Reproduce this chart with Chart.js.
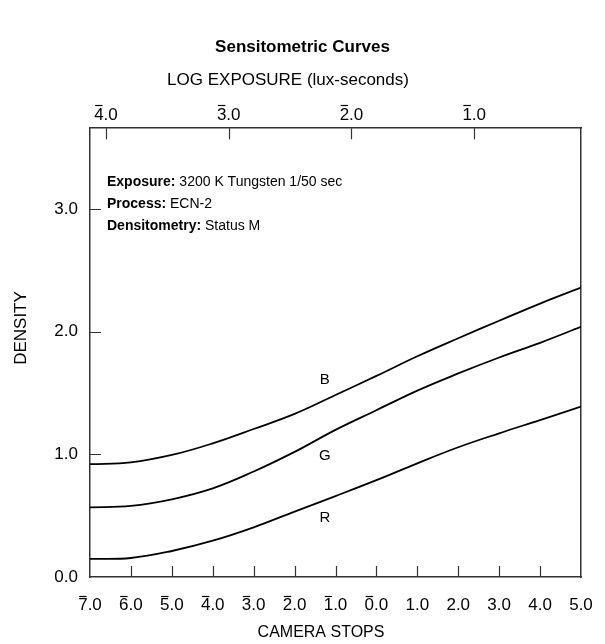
<!DOCTYPE html>
<html>
<head>
<meta charset="utf-8">
<script src="https://cdn.jsdelivr.net/npm/chart.js@4.4.0/dist/chart.umd.min.js"></script>
<style>
  html, body { margin: 0; padding: 0; background: #fff; overflow: hidden; }
  canvas { display: block; }
</style>
</head>
<body>
<canvas id="myChart" width="605" height="644"></canvas>
<script>
// data (density per camera stop)
const cameraStops = [-7, -6, -5, -4, -3, -2, -1, 0, 1, 2, 3, 4, 5];
// \u0304 = bar over the characteristic (negative log notation)
const stopLabels = ['7\u0304.0', '6\u0304.0', '5\u0304.0', '4\u0304.0', '3\u0304.0', '2\u0304.0', '1\u0304.0', '0\u0304.0', '1.0', '2.0', '3.0', '4.0', '5.0'];
const blueDensity = [0.92, 0.935, 0.995, 1.09, 1.207, 1.33, 1.484, 1.64, 1.80, 1.947, 2.09, 2.23, 2.36];
const greenDensity = [0.568, 0.58, 0.634, 0.723, 0.86, 1.02, 1.20, 1.36, 1.52, 1.66, 1.79, 1.91, 2.04];
const redDensity = [0.147, 0.155, 0.212, 0.296, 0.405, 0.533, 0.66, 0.79, 0.927, 1.058, 1.172, 1.28, 1.39];
const densityTicks = [0, 1, 2, 3];
const densityLabels = ['0.0', '1.0', '2.0', '3.0'];
const logExposureTicks = [-4, -3, -2, -1];
const logExposureLabels = ['4\u0304.0', '3\u0304.0', '2\u0304.0', '1\u0304.0'];
const curveNames = ['B', 'G', 'R'];

const FONT = 'Liberation Sans, Arial, sans-serif';
const TICK_SIZE = 17;
const BOTTOM_PAD = 18, TOP_PAD = 3;
const frameColor = '#333';
const BAR = '\u0304';

function toPoints(vals) {
  return cameraStops.map((s, i) => ({x: s, y: vals[i]}));
}
function plain(lbl) {
  return lbl.replace(BAR, '');
}

const lineStyle = {
  borderColor: '#000',
  borderWidth: 1.8,
  pointRadius: 0,
  fill: false,
  tension: 0.4
};

// bar over the first digit of a tick label, cy = label middle
function drawBars(ctx, scale, values, labels, cy) {
  ctx.font = TICK_SIZE + 'px ' + FONT;
  const yb = Math.round(cy - TICK_SIZE * 0.56) + 0.5;
  values.forEach((v, i) => {
    const lbl = labels[i];
    if (lbl.indexOf(BAR) < 0) return;
    const txt = plain(lbl);
    const w = ctx.measureText(txt).width;
    const dw = ctx.measureText(txt.charAt(0)).width;
    const x0 = scale.getPixelForValue(v) - w / 2 + 1;
    ctx.beginPath();
    ctx.moveTo(x0, yb);
    ctx.lineTo(x0 + dw - 2, yb);
    ctx.stroke();
  });
}

// ticks pointing into the plot + text notes
const extras = {
  id: 'extras',
  afterDraw(chart) {
    const ctx = chart.ctx;
    const a = chart.chartArea;
    const sx = chart.scales.x, sx2 = chart.scales.x2, sy = chart.scales.y;
    const len = 11;
    ctx.save();
    ctx.strokeStyle = frameColor;
    ctx.lineWidth = 1.2;
    ctx.beginPath();
    cameraStops.slice(1, -1).forEach(v => {
      const px = Math.round(sx.getPixelForValue(v)) + 0.5;
      ctx.moveTo(px, a.bottom); ctx.lineTo(px, a.bottom - len);
    });
    logExposureTicks.forEach(v => {
      const px = Math.round(sx2.getPixelForValue(v)) + 0.5;
      ctx.moveTo(px, a.top); ctx.lineTo(px, a.top + len);
    });
    densityTicks.slice(1).forEach(v => {
      const py = Math.round(sy.getPixelForValue(v)) + 0.5;
      ctx.moveTo(a.left, py); ctx.lineTo(a.left + len, py);
    });
    ctx.stroke();

    const lh = TICK_SIZE * 1.2;
    ctx.strokeStyle = '#000';
    ctx.lineWidth = 1.2;
    drawBars(ctx, sx, cameraStops, stopLabels, a.bottom + BOTTOM_PAD + lh / 2);
    drawBars(ctx, sx2, logExposureTicks, logExposureLabels, a.top - TOP_PAD - lh / 2);

    ctx.fillStyle = '#000';
    ctx.textBaseline = 'middle';
    ctx.textAlign = 'left';
    const notes = [['Exposure:', ' 3200 K Tungsten 1/50 sec'], ['Process:', ' ECN-2'], ['Densitometry:', ' Status M']];
    notes.forEach((n, i) => {
      const x = a.left + 17, y = a.top + 54 + i * 22;
      ctx.font = 'bold 14px ' + FONT;
      ctx.fillText(n[0], x, y);
      const w = ctx.measureText(n[0]).width;
      ctx.font = '14px ' + FONT;
      ctx.fillText(n[1], x + w, y);
    });

    ctx.textAlign = 'center';
    ctx.font = '15px ' + FONT;
    const labelAt = [[-1.26, 1.61], [-1.26, 0.99], [-1.26, 0.48]];
    curveNames.forEach((name, i) => {
      ctx.fillText(name, sx.getPixelForValue(labelAt[i][0]), sy.getPixelForValue(labelAt[i][1]));
    });

    // axis titles
    ctx.font = '17px ' + FONT;
    ctx.fillText('LOG EXPOSURE (lux-seconds)', 288, 80);
    ctx.font = '16px ' + FONT;
    ctx.fillText('CAMERA STOPS', 321, 633);
    ctx.font = '17px ' + FONT;
    ctx.translate(21, 328);
    ctx.rotate(-Math.PI / 2);
    ctx.fillText('DENSITY', 0, 0);
    ctx.restore();
  }
};

const config = {
  type: 'line',
  data: {
    datasets: [
      Object.assign({label: 'B', data: toPoints(blueDensity)}, lineStyle),
      Object.assign({label: 'G', data: toPoints(greenDensity)}, lineStyle),
      Object.assign({label: 'R', data: toPoints(redDensity)}, lineStyle)
    ]
  },
  options: {
    responsive: false,
    animation: false,
    layout: {padding: 0},
    plugins: {
      legend: {display: false},
      tooltip: {enabled: false},
      title: {
        display: true,
        text: 'Sensitometric Curves',
        color: '#000',
        font: {family: FONT, size: 17, weight: 'bold'},
        padding: {top: 37, bottom: 0}
      }
    },
    scales: {
      x: {
        type: 'linear', position: 'bottom', min: -7, max: 5,
        afterBuildTicks: s => { s.ticks = cameraStops.map(v => ({value: v})); },
        afterFit: s => { s.height = 67; s.paddingLeft = 0; s.paddingRight = 0; },
        grid: {display: false, drawTicks: false},
        border: {display: true, color: frameColor, width: 1.5},
        ticks: {
          autoSkip: false, maxRotation: 0, padding: BOTTOM_PAD, color: '#000',
          font: {family: FONT, size: TICK_SIZE},
          callback: v => plain(stopLabels[cameraStops.indexOf(v)])
        }
      },
      x2: {
        type: 'linear', position: 'top', min: -4.13, max: -0.13,
        afterBuildTicks: s => { s.ticks = logExposureTicks.map(v => ({value: v})); },
        afterFit: s => { s.height = 70.8; s.paddingLeft = 0; s.paddingRight = 0; },
        grid: {display: false, drawTicks: false},
        border: {display: true, color: frameColor, width: 1.5},
        ticks: {
          autoSkip: false, maxRotation: 0, padding: TOP_PAD, color: '#000',
          font: {family: FONT, size: TICK_SIZE},
          callback: v => plain(logExposureLabels[logExposureTicks.indexOf(v)])
        }
      },
      y: {
        type: 'linear', position: 'left', min: 0, max: 3.66,
        afterBuildTicks: s => { s.ticks = densityTicks.map(v => ({value: v})); },
        afterFit: s => { s.width = 90; s.paddingTop = 0; s.paddingBottom = 0; },
        grid: {display: false, drawTicks: false},
        border: {display: true, color: frameColor, width: 1.5},
        ticks: {
          padding: 12, color: '#000',
          font: {family: FONT, size: TICK_SIZE},
          callback: v => densityLabels[densityTicks.indexOf(v)]
        }
      },
      y2: {
        type: 'linear', position: 'right', min: 0, max: 3.66,
        afterFit: s => { s.width = 24; s.paddingTop = 0; s.paddingBottom = 0; },
        grid: {display: false, drawTicks: false},
        border: {display: true, color: frameColor, width: 1.5},
        ticks: {display: false}
      }
    }
  },
  plugins: [extras]
};

const myChart = new Chart(document.getElementById('myChart'), config);
</script>
</body>
</html>
